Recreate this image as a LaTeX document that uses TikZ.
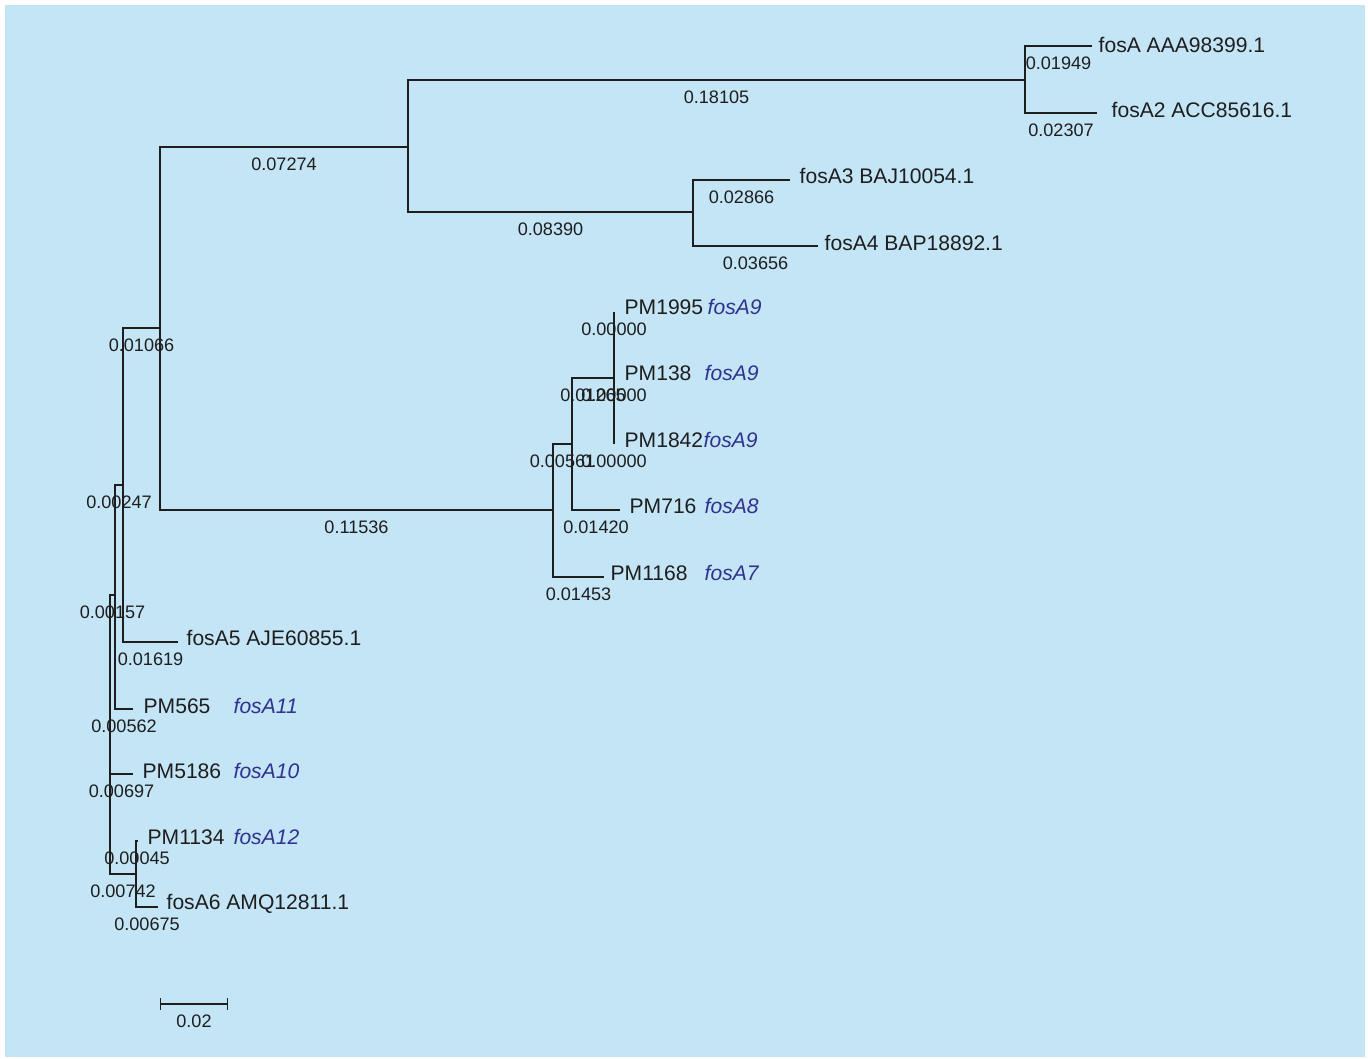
\documentclass[tikz,border=0pt]{standalone}
\usepackage{fontspec}
\setmainfont{Liberation Sans}
\usetikzlibrary{arrows.meta,positioning}
\definecolor{bgblue}{RGB}{195,229,246}
\definecolor{geneblue}{RGB}{48,48,152}
\definecolor{inkgray}{RGB}{30,30,30}
\begin{document}
\begin{tikzpicture}[x=0.02cm,y=-0.02cm,line width=0.75pt,draw=inkgray,
  blen/.style={font=\fontsize{10.3}{12}\selectfont,text=inkgray,pos=0.75,anchor=base,yshift=-13.2pt,inner sep=0pt},
  leaf/.style={font=\fontsize{12}{14}\selectfont,text=inkgray,anchor=base west,inner sep=0pt},
  gene/.style={leaf,text=geneblue,font=\fontsize{12}{14}\selectfont\itshape}]
\useasboundingbox (0,0) rectangle (1368,1058);
\fill[bgblue] (5,5) rectangle (1365,1057);
% inner nodes of the tree
\foreach \n/\x/\y in {r0/110/774,r1/115/595,r2/123/485,r3/160/328,r4/408/147,r5/1025/80,
  r6/693/212,r7/553/510,r8/572/444,r9/614/378,r10/136/874}
  \coordinate (\n) at (\x,\y);
% tips
\foreach \n/\x/\y in {fosA/1092/46,fosAii/1097/113,fosAiii/790/180,fosAiv/818/246,
  pmA/614/312,pmB/614/378,pmC/614/444,pmD/620/510,pmE/604/577,
  fosAv/178/642,pmF/133/709,pmG/133/774,pmH/138/841,fosAvi/158/907}
  \coordinate (\n) at (\x,\y);
% branches with their lengths
\foreach \p/\c/\len in {r0/r1/0.00157,r1/r2/0.00247,r2/r3/0.01066,r3/r4/0.07274,
  r4/r5/0.18105,r5/fosA/0.01949,r5/fosAii/0.02307,r4/r6/0.08390,r6/fosAiii/0.02866,
  r6/fosAiv/0.03656,r3/r7/0.11536,r7/r8/0.00561,r8/r9/0.01265,r9/pmA/0.00000,
  r9/pmB/0.00000,r9/pmC/0.00000,r8/pmD/0.01420,r7/pmE/0.01453,r2/fosAv/0.01619,
  r1/pmF/0.00562,r0/pmG/0.00697,r0/r10/0.00742,r10/pmH/0.00045,r10/fosAvi/0.00675}
  \draw (\p) |- node[blen] {\len} (\c);
% tip names
\foreach \n/\x/\y/\txt in {fosA/1098/52/fosA AAA98399.1,fosAii/1111/117/fosA2 ACC85616.1,
  fosAiii/799/183/fosA3 BAJ10054.1,fosAiv/824/250/fosA4 BAP18892.1,
  pmA/624/314/PM1995,pmB/624/380/PM138,pmC/624/447/PM1842,pmD/629/513/PM716,
  pmE/610/580/PM1168,fosAv/186/645/fosA5 AJE60855.1,pmF/143/713/PM565,
  pmG/142/778/PM5186,pmH/147/844/PM1134,fosAvi/166/909/fosA6 AMQ12811.1}
  \node[leaf] (t\n) at (\x,\y) {\txt};
\foreach \n/\x/\y/\txt in {pmA/707/314/fosA9,pmB/704/380/fosA9,pmC/703/447/fosA9,
  pmD/704/513/fosA8,pmE/704/580/fosA7,pmF/233/713/fosA11,pmG/233/778/fosA10,pmH/233/844/fosA12}
  \node[gene] (g\n) at (\x,\y) {\txt};
% scale bar
\coordinate (sbl) at (160,1004);
\coordinate (sbr) at (228,1004);
\draw[{Bar[width=6.8pt]}-{Bar[width=6.8pt]}] (sbl) -- node[blen,pos=0.5] {0.02} (sbr);
\end{tikzpicture}
\end{document}
